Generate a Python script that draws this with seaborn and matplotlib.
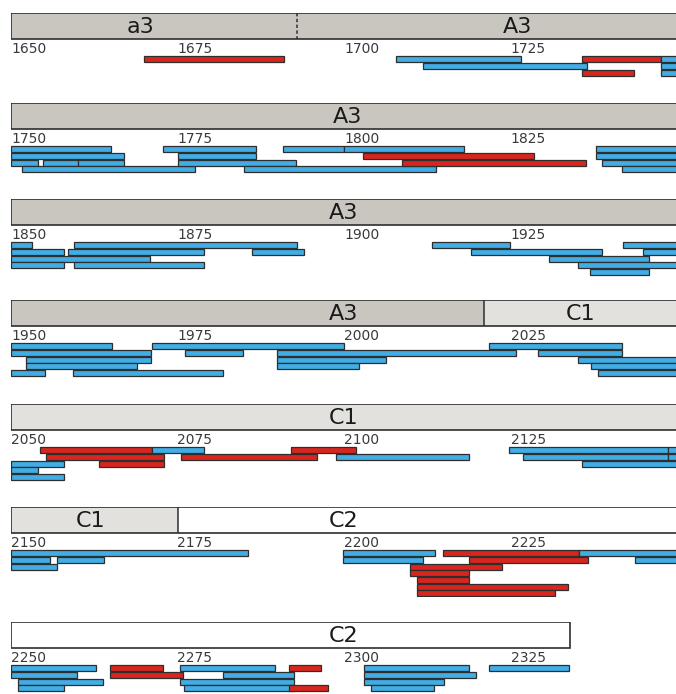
import matplotlib
matplotlib.use("Agg")
import matplotlib.pyplot as plt
from matplotlib.patches import Rectangle
import seaborn as sns
import pandas as pd

# ---- data -----------------------------------------------------------------
row_starts = [1650, 1750, 1850, 1950, 2050, 2150, 2250]
row_span = 100
tick_step = 25

# domain bands shown in the header strip of every row
domain_names = ["a3", "A3", "C1", "C2"]
domain_starts = [1650, 1693, 2021, 2175]
domain_ends = [1693, 2021, 2175, 2334]
domain_kinds = ["dark", "dark", "light", "none"]
# style of the boundary line at the start of each band
domain_left_edge = ["solid", "dashed", "solid", "solid"]

# header captions (position in residue numbers)
caption_texts = ["a3", "A3", "A3", "A3", "A3", "C1", "C1", "C1", "C2", "C2"]
caption_pos = [1669.5, 1726, 1800.5, 1900, 2000, 2035.5, 2100, 2162, 2200, 2300]

# segments: start, end, lane within the row, kind (B = blue, R = red)
seg_start = [
    # 1650-1750
    1670, 1707.8, 1711.8, 1735.7, 1735.7, 1747.6, 1747.6, 1747.6,
    # 1750-1850
    1750, 1750, 1750, 1754.8, 1760, 1751.6, 1772.8, 1775, 1775, 1785,
    1790.8, 1800, 1802.8, 1808.7, 1837.8, 1837.8, 1838.8, 1841.7,
    # 1850-1950
    1850, 1859.4, 1850, 1858.5, 1886.2, 1850, 1850, 1859.4,
    1913.2, 1941.9, 1919.1, 1944.9, 1930.8, 1935.1, 1936.9,
    # 1950-2050
    1950, 1971.1, 2021.8, 1950, 1976.1, 1990, 2029.1, 1952.3, 1990, 2035.1,
    1952.3, 1990, 2037.1, 1950, 1959.3, 2038.1,
    # 2050-2150
    2054.3, 2071.1, 2092, 2055.3, 2075.6, 2098.8, 2050, 2063.2, 2050, 2050,
    2124.8, 2148.7, 2126.9, 2148.7, 2135.7,
    # 2150-2250
    2150, 2150, 2156.9, 2150, 2199.9, 2214.8, 2235.3, 2199.9, 2218.8, 2243.7,
    2209.9, 2209.9, 2210.9, 2210.9, 2210.9,
    # 2250-2350
    2250, 2264.9, 2275.4, 2291.7, 2303, 2321.8,
    2250, 2264.9, 2281.8, 2303,
    2251, 2275.4, 2303,
    2251, 2276, 2291.7, 2304,
]
seg_end = [
    1691, 1726.6, 1736.5, 1747.6, 1743.6, 1750, 1750, 1750,
    1765, 1767, 1754, 1760, 1767, 1777.6, 1786.8, 1786.8, 1792.8, 1813.8,
    1800, 1818, 1828.6, 1836.4, 1850, 1850, 1850, 1850,
    1853.1, 1893, 1857.9, 1879, 1894, 1870.8, 1857.9, 1879,
    1924.9, 1950, 1938.7, 1950, 1945.8, 1950, 1945.8,
    1965.1, 2000, 2041.7, 1971, 1984.8, 2025.8, 2041.7, 1971, 2006.3, 2050,
    1968.9, 2002.2, 2050, 1955.1, 1981.9, 2050,
    2071.1, 2079, 2101.8, 2073, 2095.9, 2118.8, 2058, 2073, 2054.1, 2058,
    2148.7, 2150, 2148.7, 2150, 2150,
    2185.6, 2155.8, 2164, 2156.9, 2213.7, 2235.3, 2250, 2211.8, 2236.6, 2250,
    2223.7, 2218.7, 2218.7, 2233.7, 2231.7,
    2262.8, 2272.8, 2289.6, 2296.5, 2318.8, 2333.8,
    2259.9, 2275.8, 2292.5, 2319.8,
    2263.8, 2292.5, 2315,
    2258, 2292.5, 2297.6, 2313.5,
]
seg_lane = [
    0, 0, 1, 0, 2, 0, 1, 2,
    0, 1, 2, 2, 2, 3, 0, 1, 2, 3, 0, 0, 1, 2, 0, 1, 2, 3,
    0, 0, 1, 1, 1, 2, 3, 3, 0, 0, 1, 1, 2, 3, 4,
    0, 0, 0, 1, 1, 1, 1, 2, 2, 2, 3, 3, 3, 4, 4, 4,
    0, 0, 0, 1, 1, 1, 2, 2, 3, 4, 0, 0, 1, 1, 2,
    0, 1, 1, 2, 0, 0, 0, 1, 1, 1, 2, 3, 4, 5, 6,
    0, 0, 0, 0, 0, 0, 1, 1, 1, 1, 2, 2, 2, 3, 3, 3, 3,
]
seg_kind = (
    list("RBBRRBBB")
    + list("BBBBBBBBBBBBRRBBBB")
    + list("BBBBBBBBBBBBBBB")
    + list("BBBBBBBBBBBBBBBB")
    + list("RBRRRBBRBBBBBBB")
    + list("BBBBBRBBRBRRRRR")
    + list("BRBRBB" + "BRBB" + "BBB" + "BBRB")
)

segments = pd.DataFrame({"start": seg_start, "end": seg_end,
                         "lane": seg_lane, "kind": seg_kind})

# ---- styling --------------------------------------------------------------
sns.set_theme(style="white")
plt.rcParams["font.family"] = ["DejaVu Sans"]

kind_colors = {"B": "#41ade4", "R": "#d8261f"}
band_colors = {"dark": "#c9c6c0", "light": "#e2e1dd", "none": "#ffffff"}
edge_col = "#2e2e2e"

W, H = 676, 694
fig = plt.figure(figsize=(W / 100, H / 100), dpi=100)
fig.patch.set_facecolor("white")

header_tops = [13, 103, 199, 300, 404, 507, 622]   # pixel rows of header strips
panel_h = 90                                      # pixel height of a panel
header_h = 25.5
lane_top0 = 43.3
lane_pitch = 6.67
bar_h = 5.9
x_left = 11
x_px = 666

for r, r0 in enumerate(row_starts):
    r1 = r0 + row_span
    top = header_tops[r]
    ax = fig.add_axes([x_left / W, 1 - (top + panel_h) / H, x_px / W, panel_h / H])
    ax.set_xlim(r0, r1)
    ax.set_ylim(panel_h, 0)
    ax.axis("off")

    # header strip made of domain bands
    band_lo, band_hi = None, None
    for d0, d1, kind, edge in zip(domain_starts, domain_ends,
                                  domain_kinds, domain_left_edge):
        a, b = max(d0, r0), min(d1, r1)
        if a >= b:
            continue
        ax.add_patch(Rectangle((a, 0), b - a, header_h, facecolor=band_colors[kind],
                               edgecolor="none", zorder=1))
        band_lo = a if band_lo is None else min(band_lo, a)
        band_hi = b if band_hi is None else max(band_hi, b)
        if r0 < d0 < r1:
            ls = (0, (2.2, 1.6)) if edge == "dashed" else "-"
            ax.plot([d0, d0], [0, header_h], color=edge_col, lw=1.1,
                    linestyle=ls, zorder=3, solid_capstyle="butt")
    ax.add_patch(Rectangle((band_lo, 0), band_hi - band_lo, header_h,
                           facecolor="none", edgecolor=edge_col, lw=1.2, zorder=4))

    for txt, pos in zip(caption_texts, caption_pos):
        if r0 <= pos < r1:
            ax.text(pos, header_h / 2 + 0.8, txt, ha="center", va="center",
                    fontsize=16, color="#1a1a1a", zorder=5)

    # residue ticks
    for t in range(r0, r1, tick_step):
        ax.text(t, 40, str(t), ha="left", va="baseline", fontsize=10,
                color="#3a3a3a")

    # segments of this row
    sub = segments[(segments["start"] >= r0) & (segments["start"] < r1)]
    ax.barh(lane_top0 + sub["lane"] * lane_pitch + bar_h / 2,
            sub["end"] - sub["start"], left=sub["start"], height=bar_h,
            color=[kind_colors[k] for k in sub["kind"]],
            edgecolor=edge_col, linewidth=0.9, zorder=2)

fig.savefig("out.png", dpi=100, facecolor="white")
